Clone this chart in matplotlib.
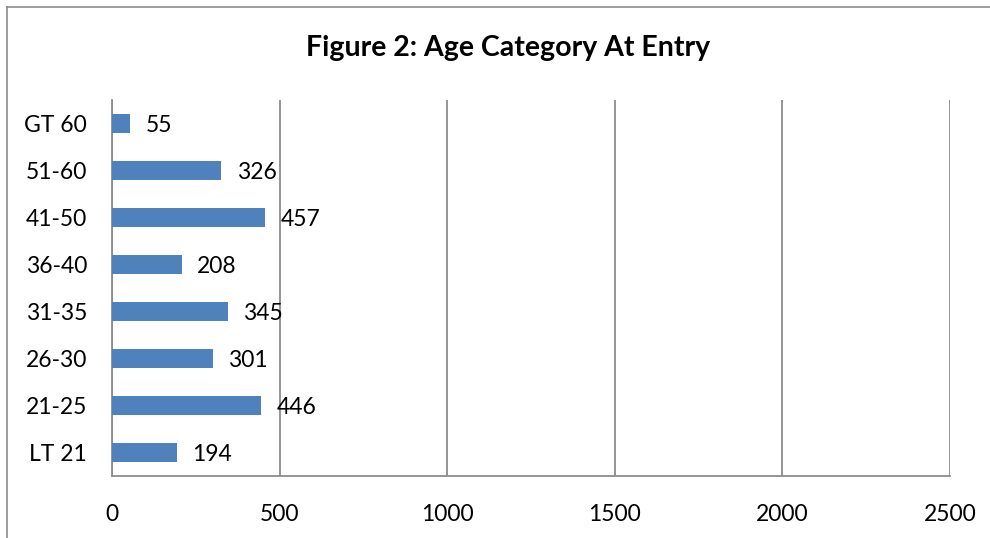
import matplotlib
matplotlib.use("Agg")
import matplotlib.pyplot as plt
from matplotlib.lines import Line2D

categories = ["LT 21", "21-25", "26-30", "31-35", "36-40", "41-50", "51-60", "GT 60"]
values = [194, 446, 301, 345, 208, 457, 326, 55]
xticks = [0, 500, 1000, 1500, 2000, 2500]
title = "Figure 2: Age Category At Entry"

plt.rcParams['font.family'] = ['Lato', 'DejaVu Sans']

fig = plt.figure(figsize=(9.9, 5.38), dpi=100)
ax = fig.add_axes([112/990, 1-476/538, (950-112)/990, (476-100)/538])

ypos = list(range(len(categories)))
ax.barh(ypos, values, height=0.39, color="#4F81BD", zorder=3)
for y, v in zip(ypos, values):
    ax.annotate(str(v), (v, y), xytext=(11, -1.5), textcoords="offset points",
                va="center", ha="left", fontsize=16.5, color="black", zorder=4)

ax.set_xlim(0, 2500)
ax.set_ylim(-0.5, len(categories) - 0.5)
ax.set_xticks(xticks)
ax.set_xticklabels([str(t) for t in xticks], fontsize=16.5)
ax.set_yticks(ypos)
ax.set_yticklabels(categories, fontsize=16.5)
ax.tick_params(axis="both", length=0)
ax.tick_params(axis="x", pad=20)
ax.tick_params(axis="y", pad=18)
ax.grid(axis="x", color="#8C8C8C", linewidth=1.3, zorder=0)
for s in ["top", "right"]:
    ax.spines[s].set_visible(False)
for s in ["left", "bottom"]:
    ax.spines[s].set_color("#8C8C8C")
    ax.spines[s].set_linewidth(1.3)

fig.text(508/990, 1-48/538, title, ha="center", va="center",
         fontsize=20.5, fontweight="bold")

fig.add_artist(Line2D([7/990, 7/990], [0, 1-7/538], transform=fig.transFigure,
                      color="#8C8C8C", linewidth=1.2))
fig.add_artist(Line2D([7/990, 1], [1-7/538, 1-7/538], transform=fig.transFigure,
                      color="#8C8C8C", linewidth=1.2))

fig.savefig("out.png", dpi=100)
